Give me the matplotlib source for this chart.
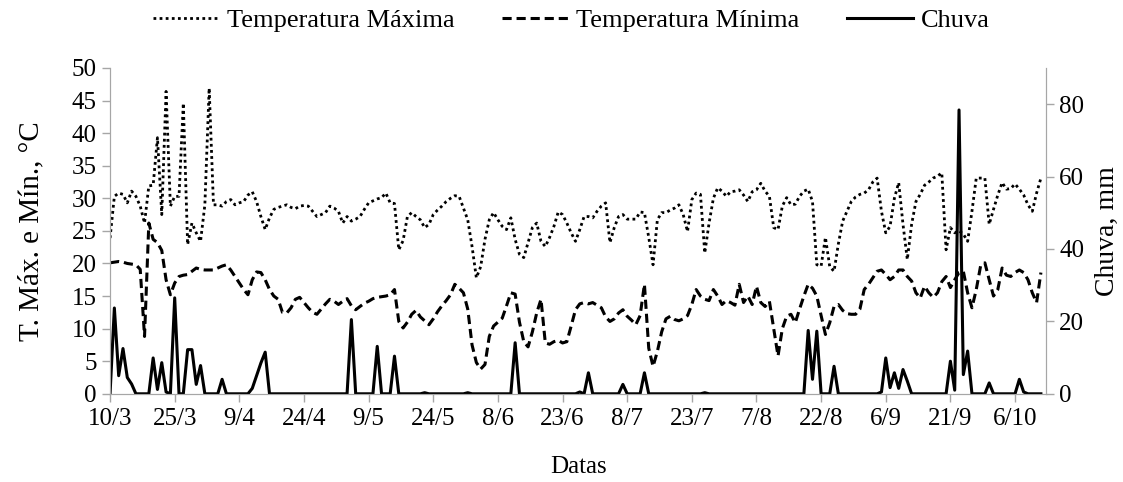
import numpy as np
import matplotlib.pyplot as plt

plt.rcParams['font.family'] = ['Liberation Serif', 'DejaVu Serif']

# daily series, day 0 = 10/3
temp_max = [23.9, 30.3, 30.8, 30.6, 29.3, 31.1, 30.3, 28.8, 26.2, 31.9,
            32.0, 39.3, 27.5, 46.4, 28.8, 30.3, 30.3, 44.6, 22.9, 26.2,
            24.7, 23.4, 29.0, 46.9, 29.0, 29.0, 28.8, 29.5, 29.8, 29.0,
            29.3, 29.5, 30.5, 31.0, 29.5, 27.2, 25.2, 27.0, 28.3, 28.6,
            28.8, 29.0, 28.6, 28.4, 28.8, 28.9, 28.8, 28.0, 27.2, 27.5,
            27.8, 28.8, 28.5, 28.0, 26.2, 27.2, 26.5, 26.8, 27.2, 28.3,
            29.3, 29.6, 29.9, 30.1, 30.8, 29.3, 29.2, 22.1, 23.5, 27.2,
            27.8, 27.2, 26.7, 25.5, 26.0, 27.5, 28.2, 28.8, 29.5, 30.0,
            30.4, 30.3, 28.5, 26.7, 22.6, 17.8, 19.5, 23.7, 26.7, 27.8,
            26.7, 25.7, 25.2, 27.0, 23.7, 21.4, 20.9, 23.2, 25.5, 26.2,
            23.4, 22.6, 24.0, 25.7, 27.9, 27.5, 26.2, 24.7, 23.4, 25.2,
            27.2, 27.2, 27.0, 28.0, 28.8, 29.3, 23.2, 25.5, 27.2, 27.5,
            26.8, 26.8, 26.8, 27.9, 27.8, 24.0, 19.8, 26.7, 27.8, 27.8,
            28.2, 28.5, 29.0, 27.5, 24.9, 29.8, 30.8, 30.6, 21.6, 26.2,
            30.0, 31.6, 31.1, 30.3, 31.0, 31.1, 31.3, 30.5, 29.5, 31.0,
            31.3, 32.3, 31.1, 30.3, 25.5, 25.2, 28.8, 30.1, 29.0, 29.1,
            30.3, 31.1, 31.4, 29.5, 19.8, 19.6, 24.0, 19.5, 18.8, 23.0,
            26.5, 28.0, 29.5, 30.2, 30.6, 30.8, 31.3, 32.5, 33.1, 28.0,
            24.7, 25.7, 30.0, 32.4, 26.0, 20.6, 26.0, 29.5, 30.6, 32.0,
            32.5, 33.1, 33.4, 33.9, 22.1, 25.5, 24.7, 25.0, 24.5, 23.4,
            28.0, 33.1, 33.1, 33.1, 26.0, 28.3, 30.5, 32.4, 31.4, 31.5,
            32.2, 31.4, 30.5, 29.0, 28.0, 30.8, 33.1]

temp_min = [20.1, 20.2, 20.3, 20.2, 20.0, 19.9, 19.8, 19.1, 8.8, 26.2,
            23.7, 23.2, 22.0, 17.5, 15.2, 17.0, 18.0, 18.2, 18.3, 18.8,
            19.3, 19.1, 19.0, 19.0, 19.0, 19.3, 19.6, 19.8, 19.0, 18.0,
            17.0, 16.0, 15.2, 17.5, 18.7, 18.6, 17.5, 16.0, 15.0, 14.5,
            12.5, 12.4, 13.2, 14.5, 14.8, 14.0, 13.2, 12.5, 12.2, 13.0,
            13.8, 14.5, 14.2, 13.7, 14.2, 14.6, 13.5, 12.9, 13.4, 13.9,
            14.2, 14.6, 14.8, 14.9, 15.0, 15.2, 16.0, 11.1, 10.1, 11.0,
            12.2, 12.8, 11.8, 11.2, 10.6, 11.5, 12.6, 13.5, 14.3, 15.2,
            16.8, 16.2, 15.5, 13.0, 7.5, 4.8, 3.8, 4.5, 8.8, 10.4,
            11.0, 11.6, 13.5, 15.5, 15.3, 11.0, 8.0, 7.2, 9.5, 12.4,
            14.5, 7.8, 7.6, 8.0, 8.2, 7.8, 8.0, 10.4, 12.9, 13.8,
            14.0, 13.8, 14.0, 13.6, 13.2, 11.8, 11.1, 11.5, 12.4, 12.9,
            11.9, 11.3, 10.6, 12.0, 16.8, 7.0, 4.2, 6.5, 9.5, 11.5,
            11.9, 11.4, 11.2, 11.5, 12.0, 13.7, 16.0, 15.0, 14.5, 14.3,
            16.0, 15.0, 13.7, 14.3, 14.0, 13.6, 16.8, 14.0, 15.0, 13.7,
            16.5, 14.0, 13.4, 14.2, 10.0, 5.8, 10.0, 11.9, 12.2, 10.9,
            13.0, 15.0, 16.8, 16.2, 15.0, 12.0, 9.1, 10.9, 13.4, 13.7,
            12.8, 12.3, 12.2, 12.2, 13.0, 16.0, 16.8, 17.8, 18.8, 19.0,
            18.3, 17.5, 18.0, 19.0, 19.0, 18.0, 17.3, 15.5, 14.7, 16.5,
            15.5, 14.8, 15.5, 17.2, 18.0, 16.3, 17.5, 18.6, 18.8, 15.5,
            13.2, 16.0, 19.6, 20.1, 17.5, 15.0, 16.0, 19.3, 18.2, 18.0,
            18.6, 19.0, 18.6, 17.5, 15.5, 14.0, 18.6]

# rain: only days with rain (all other days are 0)
rain_days = [1, 2, 3, 4, 5, 10, 11, 12, 13, 15, 18, 19, 20, 21, 26,
             33, 34, 35, 36, 56, 62, 66, 73, 83, 94, 109, 111, 119, 124, 138,
             162, 163, 164, 168, 179, 180, 181, 182, 183, 184, 185,
             195, 196, 197, 198, 199, 204, 211, 212]
rain_mm = [23.7, 5.0, 12.5, 4.5, 2.7, 9.9, 1.2, 8.6, 0.5, 26.5, 12.2, 12.2, 2.6, 7.8, 4.0,
           1.5, 5.0, 8.5, 11.5, 20.5, 13.1, 10.4, 0.3, 0.3, 14.1, 0.5, 5.8, 2.6, 5.8, 0.3,
           17.5, 4.0, 17.3, 7.6, 0.5, 9.9, 1.7, 5.8, 1.5, 6.7, 3.5,
           9.0, 1.0, 78.4, 5.3, 11.8, 3.0, 4.0, 0.5]

tick_labels = ['10/3', '25/3', '9/4', '24/4', '9/5', '24/5', '8/6', '23/6',
               '8/7', '23/7', '7/8', '22/8', '6/9', '21/9', '6/10']

dias = np.arange(len(temp_max))
chuva = np.zeros(len(temp_max))
chuva[rain_days] = rain_mm

cinza = '#a6a6a6'
fs = 18

fig = plt.figure(figsize=(11.23, 4.82), dpi=100)
ax = fig.add_axes([0.098, 0.183, 0.8335, 0.676])
ax2 = ax.twinx()

l1, = ax.plot(dias, temp_max, color='black', lw=2.0, linestyle=(0, (1, 1.2)),
              label='Temperatura Máxima')
l2, = ax.plot(dias, temp_min, color='black', lw=2.2, linestyle=(0, (3, 1.6)),
              label='Temperatura Mínima')
l3, = ax2.plot(dias, chuva, color='black', lw=2.2, label='Chuva')

ax.set_xlim(0, 217.2)
ax.set_ylim(0, 50)
ax2.set_ylim(0, 90)
ax.set_yticks(np.arange(0, 51, 5))
ax2.set_yticks(np.arange(0, 81, 20))
ax.set_xticks(np.arange(0, 15 * len(tick_labels), 15))
ax.set_xticklabels(tick_labels)

for a in (ax, ax2):
    a.spines['top'].set_visible(False)
    for s in ('left', 'right', 'bottom'):
        a.spines[s].set_color(cinza)
    a.tick_params(colors=cinza, labelcolor='black', labelsize=fs, length=6, width=1)
ax.tick_params(axis='x', pad=4)

ax.set_ylabel('T. Máx. e Mín., °C', fontsize=21, labelpad=20)
ax2.set_ylabel('Chuva, mm', fontsize=20, labelpad=8)
ax.set_xlabel('Datas', fontsize=fs, labelpad=19)

fig.legend(handles=[l1, l2, l3], loc='center', bbox_to_anchor=(0.509, 0.957),
           ncol=3, frameon=False, fontsize=19, handlelength=2.5,
           handletextpad=0.3, columnspacing=1.8)

fig.savefig('out.png', dpi=100)
